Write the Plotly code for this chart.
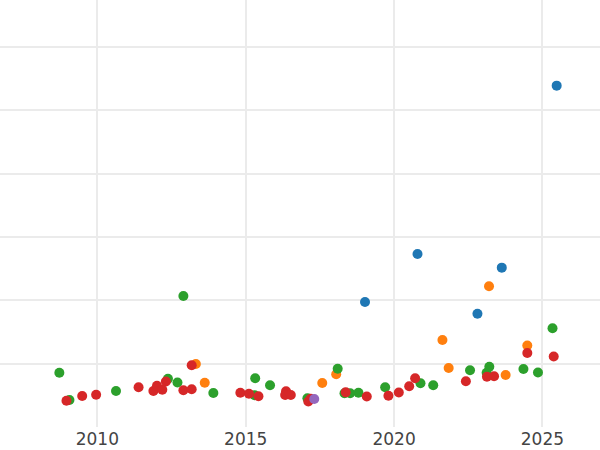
import plotly.graph_objects as go

# Data (x = decimal year, y = value on an unlabeled axis)
blue_x = [2019.02, 2020.79, 2022.81, 2023.63, 2025.48]
blue_y = [19.75, 27.33, 17.90, 25.17, 53.92]

orange_x = [2013.32, 2013.62, 2017.58, 2018.05, 2021.63, 2021.84, 2023.20, 2023.76, 2024.49]
orange_y = [9.95, 7.00, 6.95, 8.33, 13.74, 9.32, 22.23, 8.21, 12.87]

green_x = [2008.72, 2009.06, 2010.63, 2012.38, 2012.70, 2012.90, 2013.91, 2015.32, 2015.30,
           2015.82, 2017.08, 2018.10, 2018.33, 2018.52, 2018.80, 2019.70, 2020.89, 2021.32,
           2022.56, 2023.12, 2023.21, 2024.36, 2024.85, 2025.34]
green_y = [8.58, 4.27, 5.69, 7.61, 7.03, 20.69, 5.37, 7.71, 5.02,
           6.59, 4.53, 9.21, 5.34, 5.32, 5.42, 6.27, 6.92, 6.60,
           8.97, 8.58, 9.51, 9.16, 8.61, 15.59]

red_x = [2008.96, 2009.49, 2009.96, 2011.39, 2011.89, 2012.01, 2012.19, 2012.31, 2012.90,
         2013.18, 2013.18, 2014.82, 2015.11, 2015.43, 2016.36, 2016.33, 2016.52, 2017.11,
         2017.19, 2018.37, 2019.08, 2019.81, 2020.16, 2020.51, 2020.71, 2022.42, 2023.13,
         2023.37, 2024.49, 2025.38]
red_y = [4.15, 4.90, 5.09, 6.27, 5.69, 6.51, 5.88, 7.19, 5.80,
         9.76, 5.97, 5.40, 5.26, 4.87, 5.66, 5.06, 5.06, 4.03,
         4.45, 5.47, 4.82, 4.94, 5.45, 6.45, 7.69, 7.22, 7.95,
         8.03, 11.69, 11.14]

purple_x = [2017.31]
purple_y = [4.42]

x_ticks = [2010, 2015, 2020, 2025]
x_ticklabels = ["2010", "2015", "2020", "2025"]

series = [
    ("blue", blue_x, blue_y, "#1f77b4"),
    ("orange", orange_x, orange_y, "#ff7f0e"),
    ("green", green_x, green_y, "#2ca02c"),
    ("red", red_x, red_y, "#d62728"),
    ("purple", purple_x, purple_y, "#9467bd"),
]

fig = go.Figure()
for name, xs, ys, col in series:
    fig.add_trace(go.Scatter(x=xs, y=ys, mode="markers", name=name,
                             marker=dict(color=col, size=10, line=dict(width=0))))

fig.update_layout(
    width=600, height=450,
    margin=dict(l=0, r=0, t=0, b=23),
    paper_bgcolor="white", plot_bgcolor="white",
    showlegend=False,
    font=dict(family="DejaVu Sans", color="#444444"),
)
fig.update_xaxes(range=[2006.72, 2026.94], tickvals=x_ticks, ticktext=x_ticklabels,
                 showgrid=True, gridcolor="#ebebeb", gridwidth=1.5, zeroline=False,
                 showline=False, ticks="", tickfont=dict(size=17, color="#444444"),
                 automargin=False)
fig.update_yaxes(range=[0, 67.45], dtick=10, tick0=0, showticklabels=False,
                 showgrid=True, gridcolor="#ebebeb", gridwidth=1.5, zeroline=False,
                 showline=False, ticks="", automargin=False)

fig.write_html("out.html",
               config={"displayModeBar": False},
               post_script="document.body.style.margin='0';document.body.style.overflow='hidden';")
